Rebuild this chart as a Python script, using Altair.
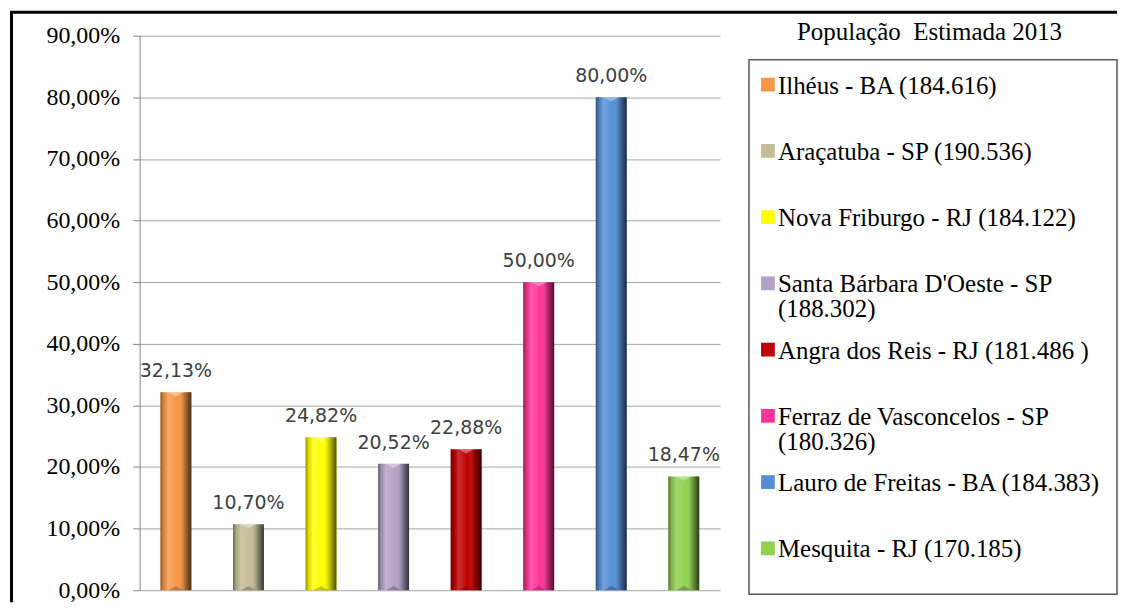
import altair as alt
import pandas as pd

cities = [
    "Ilhéus - BA (184.616)",
    "Araçatuba - SP (190.536)",
    "Nova Friburgo - RJ (184.122)",
    "Santa Bárbara D'Oeste - SP\n(188.302)",
    "Angra dos Reis - RJ (181.486 )",
    "Ferraz de Vasconcelos - SP\n(180.326)",
    "Lauro de Freitas - BA (184.383)",
    "Mesquita - RJ (170.185)",
]
values = [32.13, 10.70, 24.82, 20.52, 22.88, 50.00, 80.00, 18.47]
colors = ["#F79646", "#C4BD97", "#FFFF00", "#B3A2C7", "#C00000", "#FF3399", "#558ED5", "#92D050"]
y_ticks = [0, 10, 20, 30, 40, 50, 60, 70, 80, 90]
legend_title = "População\u00a0 Estimada 2013"

df = pd.DataFrame({"city": cities, "value": values})
one = pd.DataFrame({"k": [0]})

fmt = "replace(format(datum.value, '.2f'), '.', ',') + '%'"

xenc = alt.X("city:N", sort=cities, axis=None,
             scale=alt.Scale(paddingInner=0.574, paddingOuter=0.287))
yscale = alt.Scale(domain=[0, 90], nice=False)
yenc = alt.Y("value:Q", scale=yscale,
             axis=alt.Axis(values=y_ticks, labelExpr=fmt, title=None,
                           labelFont="Liberation Serif", labelFontSize=24,
                           labelColor="#000000", labelPadding=13,
                           tickSize=7, tickColor="#868686", domainColor="#868686",
                           gridColor="#A6A6A6", grid=True))

base = alt.Chart(df)

bars = base.mark_bar().encode(
    x=xenc, y=yenc,
    color=alt.Color("city:N", sort=cities,
                    scale=alt.Scale(domain=cities, range=colors), legend=None),
)

shade = base.mark_bar(
    color=alt.LinearGradient(
        gradient="linear", x1=0, x2=1, y1=0, y2=0,
        stops=[
            alt.GradientStop(offset=0, color="rgba(0,0,0,0.45)"),
            alt.GradientStop(offset=0.1, color="rgba(0,0,0,0.12)"),
            alt.GradientStop(offset=0.25, color="rgba(255,255,255,0.18)"),
            alt.GradientStop(offset=0.55, color="rgba(255,255,255,0.0)"),
            alt.GradientStop(offset=0.78, color="rgba(0,0,0,0.25)"),
            alt.GradientStop(offset=1, color="rgba(0,0,0,0.7)"),
        ],
    )
).encode(x=xenc, y=yenc)

top_bevel = base.mark_point(
    shape="M-1.1,0L1.1,0L0,0.6Z", filled=True, color="#FFFFFF", opacity=0.35,
    size=196, strokeWidth=0,
).encode(x=xenc, y=yenc)

bottom_bevel = base.transform_calculate(zero="0").mark_point(
    shape="M-1.1,0L1.1,0L0,-0.6Z", filled=True, color="#000000", opacity=0.22,
    size=196, strokeWidth=0,
).encode(x=xenc, y=alt.Y("zero:Q", scale=yscale))

labels = base.transform_calculate(lbl=fmt).mark_text(
    font="DejaVu Sans", fontSize=19, color="#404040",
    baseline="alphabetic", align="center", dy=-15,
).encode(x=xenc, y=yenc, text="lbl:N")

frame_left = alt.Chart(one).mark_rule(color="#000000", strokeWidth=3).encode(
    x=alt.value(-128.5), y=alt.value(-23.5), y2=alt.value(568))
frame_top = alt.Chart(one).mark_rule(color="#000000", strokeWidth=3).encode(
    x=alt.value(-130), x2=alt.value(980), y=alt.value(-23.5))

left = alt.layer(bars, shade, top_bevel, bottom_bevel, labels, frame_left, frame_top).properties(
    width=582, height=556)

# legend panel
leg_y = alt.Y("city:N", sort=cities, axis=None,
              scale=alt.Scale(type="point", domain=cities, range=[58, 523], padding=0))
leg_base = alt.Chart(df)

box = alt.Chart(one).mark_rect(fill="#FFFFFF", stroke="#595959", strokeWidth=1.5).encode(
    x=alt.value(0), x2=alt.value(369), y=alt.value(24), y2=alt.value(560))

title_txt = alt.Chart(one).transform_calculate(t=f"'{legend_title}'").mark_text(
    font="Liberation Serif", fontSize=25, color="#000000",
    align="center", baseline="alphabetic",
).encode(x=alt.value(181), y=alt.value(4), text="t:N")

syms = leg_base.mark_square(size=190, opacity=1, yOffset=-9).encode(
    x=alt.value(19), y=leg_y,
    color=alt.Color("city:N", sort=cities,
                    scale=alt.Scale(domain=cities, range=colors), legend=None),
)

leg_text = leg_base.mark_text(
    font="Liberation Serif", fontSize=25, color="#000000",
    align="left", baseline="alphabetic", lineBreak="\n", lineHeight=25,
).encode(x=alt.value(29), y=leg_y, text="city:N")

right = alt.layer(box, title_txt, syms, leg_text).properties(width=369, height=556)

chart = alt.hconcat(left, right, spacing=29, bounds="flush").properties(
    padding={"left": 0, "top": 2, "right": 0, "bottom": 0},
    background="#FFFFFF",
).configure_view(stroke=None)

chart.save("out.html", embed_options={"renderer": "svg", "actions": False})
